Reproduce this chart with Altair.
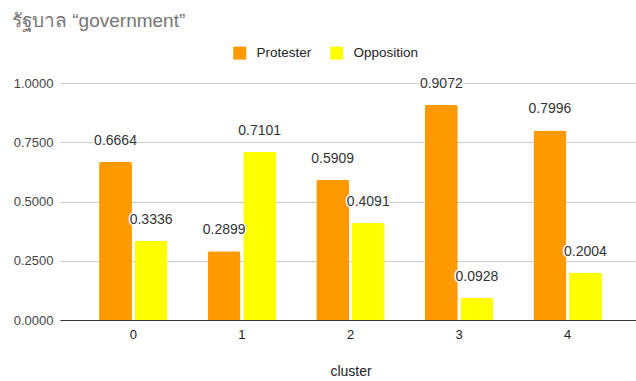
import altair as alt
import pandas as pd

clusters = ["0", "1", "2", "3", "4"]
protester = [0.6664, 0.2899, 0.5909, 0.9072, 0.7996]
opposition = [0.3336, 0.7101, 0.4091, 0.0928, 0.2004]
series = ["Protester", "Opposition"]
colors = ["#FF9900", "#FFFF00"]

rows = []
for i, c in enumerate(clusters):
    rows.append({"cluster": c, "group": series[0], "value": protester[i]})
    rows.append({"cluster": c, "group": series[1], "value": opposition[i]})
df = pd.DataFrame(rows)

FONT = "Liberation Sans"

x_enc = alt.X(
    "cluster:N",
    sort=clusters,
    scale=alt.Scale(range=[0, 581], paddingInner=0.37, paddingOuter=0.36),
    axis=alt.Axis(
        title="cluster",
        labelAngle=0,
        ticks=False,
        domain=True,
        domainColor="#333333",
        domainWidth=1,
        labelPadding=8,
        labelFontSize=13,
        labelColor="#222222",
        titlePadding=23,
        titleFontSize=14,
        titleFontWeight="normal",
        titleColor="#222222",
        grid=False,
    ),
)
xoff = alt.XOffset(
    "group:N",
    sort=series,
    scale=alt.Scale(paddingInner=0.076, paddingOuter=0),
)
y_enc = alt.Y(
    "value:Q",
    scale=alt.Scale(domain=[0, 1], nice=False),
    axis=alt.Axis(
        title=None,
        values=[0, 0.25, 0.5, 0.75, 1.0],
        format=".4f",
        domain=False,
        ticks=False,
        labelPadding=7,
        labelFontSize=13,
        labelColor="#444444",
        gridColor="#cccccc",
        gridWidth=1,
    ),
)

base = alt.Chart(df).encode(x=x_enc, xOffset=xoff, y=y_enc)

bars = base.mark_bar(cornerRadiusTopLeft=2, cornerRadiusTopRight=2).encode(
    color=alt.Color(
        "group:N",
        sort=series,
        scale=alt.Scale(domain=series, range=colors),
        legend=alt.Legend(
            title=None,
            orient="none",
            legendX=173,
            legendY=-37,
            direction="horizontal",
            symbolType="square",
            symbolSize=169,
            symbolStrokeWidth=0,
            labelFontSize=13.5,
            labelColor="#222222",
            labelOffset=10,
            columnPadding=18,
        ),
    )
)

halo = base.mark_text(
    dy=-21, fontSize=14, font=FONT, stroke="white", strokeWidth=3, color="white"
).encode(text=alt.Text("value:Q", format=".4f"))

labels = base.mark_text(dy=-21, fontSize=14, font=FONT, color="#333333").encode(
    text=alt.Text("value:Q", format=".4f")
)

chart = (
    alt.layer(bars, halo, labels)
    .properties(
        width=576,
        height=237,
        autosize=alt.AutoSizeParams(type="none"),
        padding={"left": 60, "top": 83, "right": 0, "bottom": 61},
        title=alt.TitleParams(
            text="รัฐบาล “government”",
            anchor="start",
            frame="group",
            dx=-48,
            offset=15,
            fontSize=19,
            font=FONT,
            fontWeight="normal",
            color="#757575",
        ),
    )
    .configure_view(stroke=None)
    .configure_axis(labelFont=FONT, titleFont=FONT)
    .configure_legend(labelFont=FONT)
)

chart.save("out.html", embed_options={"renderer": "svg", "actions": False})
